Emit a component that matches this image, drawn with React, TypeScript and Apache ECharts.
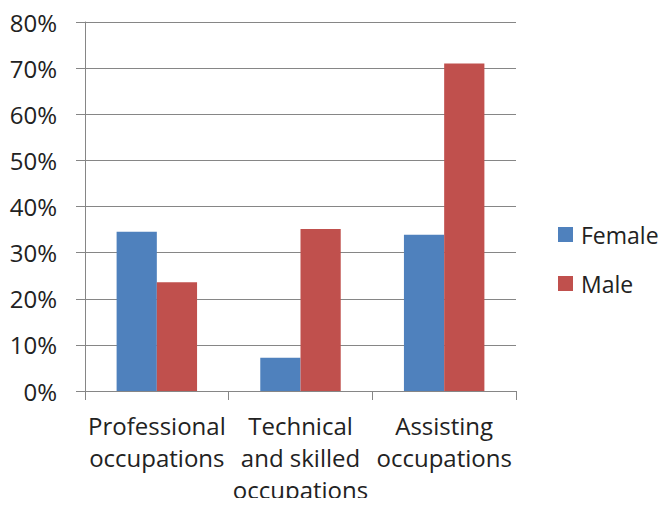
import React, { useEffect, useRef } from "react";
import * as echarts from "echarts";

const categories = [
  "Professional\noccupations",
  "Technical\nand skilled\noccupations",
  "Assisting\noccupations",
];
const femaleValues = [34.5, 7.2, 33.9];
const maleValues = [23.6, 35.1, 71.0];
const seriesNames = ["Female", "Male"];

export default function App() {
  const ref = useRef<HTMLDivElement>(null);
  useEffect(() => {
    const chart = echarts.init(ref.current!, null, { renderer: "svg" });
    const font = "Open Sans, Liberation Sans, sans-serif";
    chart.setOption({
      animation: false,
      backgroundColor: "#ffffff",
      grid: {
        left: 85,
        right: 151,
        top: 22,
        bottom: 115,
        containLabel: false,
        outerBoundsMode: "none",
      },
      legend: {
        orient: "vertical",
        left: 553,
        top: 218,
        itemWidth: 15,
        itemHeight: 15,
        itemGap: 26,
        icon: "rect",
        textStyle: { fontFamily: font, fontSize: 23, color: "#222", padding: [0, 0, 0, 3] },
        data: seriesNames,
      },
      xAxis: {
        type: "category",
        data: categories,
        axisLine: { lineStyle: { color: "#868686", width: 1 } },
        axisTick: { show: true, length: 9, lineStyle: { color: "#868686" } },
        axisLabel: {
          interval: 0,
          fontFamily: font,
          fontSize: 24,
          color: "#222",
          lineHeight: 32,
          margin: 18,
        },
      },
      yAxis: {
        type: "value",
        min: 0,
        max: 80,
        interval: 10,
        axisLine: { show: true, lineStyle: { color: "#868686", width: 1 } },
        axisTick: { show: true, length: 9, lineStyle: { color: "#868686" } },
        splitLine: { lineStyle: { color: "#868686", width: 1 } },
        axisLabel: {
          formatter: "{value}%",
          fontFamily: font,
          fontSize: 24,
          color: "#222",
          margin: 28,
        },
      },
      series: [
        {
          name: seriesNames[0],
          type: "bar",
          data: femaleValues,
          itemStyle: { color: "#4F81BD" },
          barGap: "0%",
          barCategoryGap: "44%",
        },
        {
          name: seriesNames[1],
          type: "bar",
          data: maleValues,
          itemStyle: { color: "#C0504D" },
          barGap: "0%",
          barCategoryGap: "44%",
        },
      ],
    });
    return () => chart.dispose();
  }, []);
  return (
    <div
      ref={ref}
      style={{ width: 667, height: 506, margin: -8, overflow: "hidden" }}
    />
  );
}
